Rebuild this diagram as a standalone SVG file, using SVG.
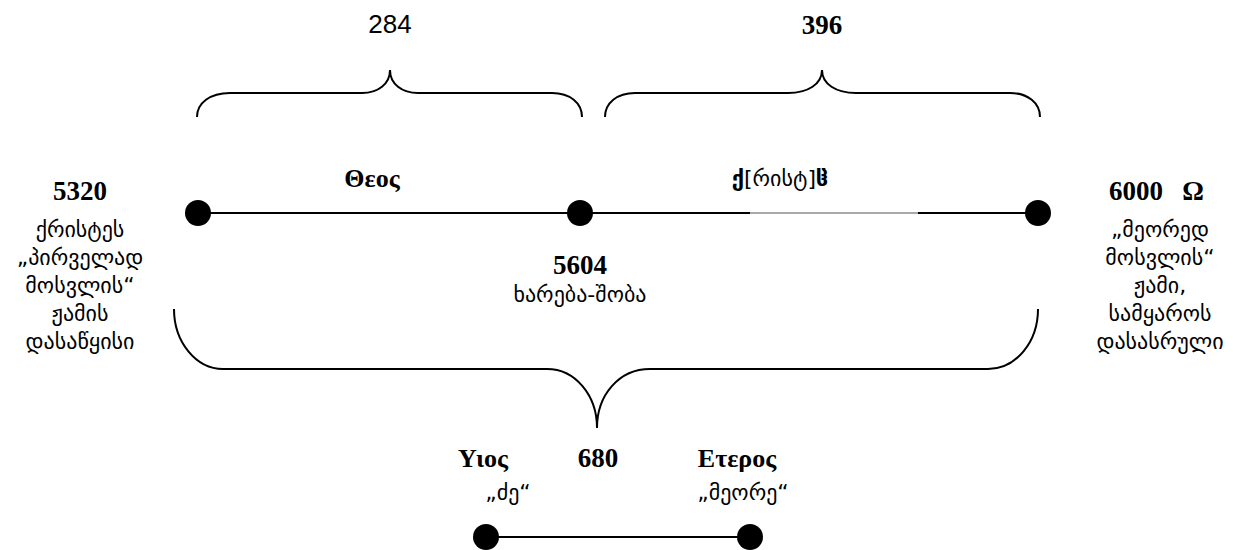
<svg xmlns="http://www.w3.org/2000/svg" width="1233" height="550" viewBox="0 0 1233 550">
<style>
.num{font-family:"Liberation Serif","DejaVu Serif",serif;font-weight:bold;font-size:27px;fill:#000;text-anchor:middle}
.sans{font-family:"Liberation Sans","DejaVu Sans",sans-serif;font-size:26px;fill:#000;text-anchor:middle}
.geo{font-family:"DejaVu Sans","Liberation Serif",sans-serif;font-size:22px;fill:#000;text-anchor:middle}
.gr{font-family:"Liberation Serif","DejaVu Serif",serif;font-weight:bold;font-size:26px;fill:#000;text-anchor:middle}
.line{stroke:#000;stroke-width:2;fill:none}
.brace{stroke:#000;stroke-width:2;fill:none}
.dot{fill:#000}
</style>
<rect width="1233" height="550" fill="#fff"/>
<g id="connectors">
<path class="line" d="M198,213 L750,213"/>
<path d="M750,213 L918,213" stroke="#555" stroke-width="1.2" fill="none"/>
<path class="line" d="M918,213 L1038,213"/>
<path class="line" d="M486,537 L750,537"/>
<path id="brace-284" class="brace" d="M197,117 C197,103 210,93 230,93 L362,93 C378,93 390,84 390,70 C390,84 402,93 418,93 L552,93 C570,93 582,103 582,117"/>
<path id="brace-396" class="brace" d="M605,117 C605,103 617,93 635,93 L788,93 C808,93 822,84 822,70 C822,84 836,93 856,93 L1010,93 C1028,93 1040,103 1040,117"/>
<path id="brace-680" class="brace" d="M174,309 C174,342 196,369 223,369 L547,369 C575,369 597,395 597,428 C597,395 619,369 650,369 L988,369 C1016,369 1038,342 1038,309"/>
</g>
<g id="node-5320">
<circle class="dot" cx="198" cy="213" r="13"/>
<text class="num" x="80" y="200">5320</text>
<text class="geo" x="80" y="237">ქრისტეს</text>
<text class="geo" x="80" y="265">„პირველად</text>
<text class="geo" x="80" y="293">მოსვლის“</text>
<text class="geo" x="80" y="321">ჟამის</text>
<text class="geo" x="80" y="349">დასაწყისი</text>
</g>
<g id="node-5604">
<circle class="dot" cx="580" cy="213" r="13"/>
<text class="num" x="580" y="274">5604</text>
<text class="geo" x="580" y="302">ხარება-შობა</text>
</g>
<g id="node-6000">
<circle class="dot" cx="1038" cy="213" r="13"/>
<text class="num" x="1136" y="200">6000</text>
<text class="num" x="1193" y="200">Ω</text>
<text class="geo" x="1160" y="237">„მეორედ</text>
<text class="geo" x="1160" y="265">მოსვლის“</text>
<text class="geo" x="1160" y="293">ჟამი,</text>
<text class="geo" x="1160" y="321">სამყაროს</text>
<text class="geo" x="1160" y="349">დასასრული</text>
</g>
<g id="label-284"><text class="sans" x="390" y="33">284</text></g>
<g id="label-396"><text class="num" x="822" y="34">396</text></g>
<g id="label-theos"><text class="gr" x="372" y="187">Θεος</text></g>
<g id="label-christ"><text class="geo" x="780" y="186"><tspan font-weight="bold">ქ</tspan>[რისტ]<tspan font-weight="bold">ჱ</tspan></text></g>
<g id="label-680"><text class="num" x="598" y="467">680</text></g>
<g id="node-yios">
<circle class="dot" cx="486" cy="537" r="13"/>
<text class="gr" x="483" y="467">Υιος</text>
<text class="geo" x="508" y="500">„ძე“</text>
</g>
<g id="node-eteros">
<circle class="dot" cx="750" cy="537" r="13"/>
<text class="gr" x="737" y="467">Ετερος</text>
<text class="geo" x="743" y="500">„მეორე“</text>
</g>
</svg>
